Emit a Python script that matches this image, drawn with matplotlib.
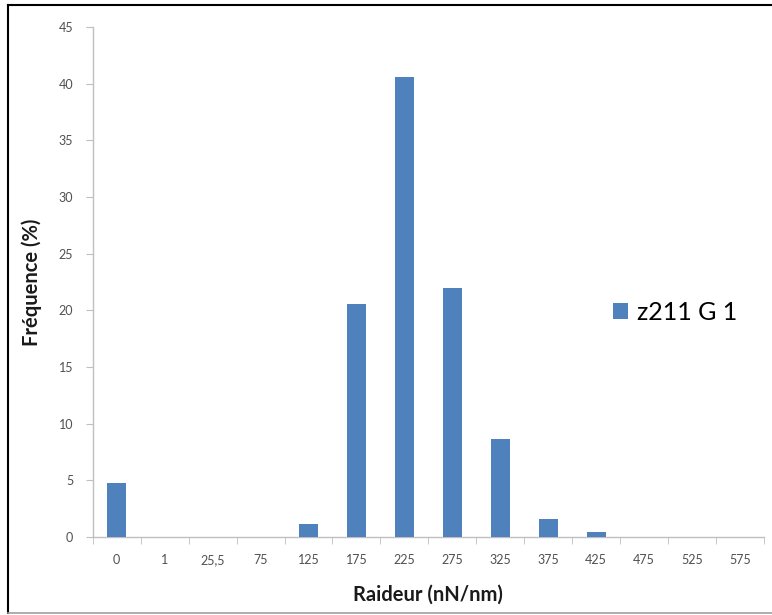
import matplotlib
matplotlib.use("Agg")
import matplotlib.pyplot as plt
from matplotlib.lines import Line2D

categories = ["0", "1", "25,5", "75", "125", "175", "225", "275", "325", "375", "425", "475", "525", "575"]
values = [4.75, 0, 0, 0, 1.15, 20.6, 40.6, 21.95, 8.65, 1.6, 0.4, 0, 0, 0]
series_name = "z211 G 1"
yticks = [0, 5, 10, 15, 20, 25, 30, 35, 40, 45]

plt.rcParams['font.family'] = ['Lato', 'DejaVu Sans']

W, H = 772, 615
fig = plt.figure(figsize=(W / 100, H / 100), dpi=100)
ax = fig.add_axes([92.7 / W, 1 - 537 / H, (764 - 92.7) / W, (537 - 27) / H])

x = list(range(len(categories)))
ax.bar(x, values, width=0.4, color="#4F81BD", label=series_name, zorder=3)

ax.set_xlim(-0.5, len(categories) - 0.5)
ax.set_ylim(0, 45)
ax.set_yticks(yticks)
ax.set_xticks(x)
ax.set_xticklabels(categories)
ax.set_xticks([i + 0.5 for i in range(-1, len(categories))], minor=True)

for s in ["top", "right"]:
    ax.spines[s].set_visible(False)
for s in ["left", "bottom"]:
    ax.spines[s].set_color("#BFBFBF")
    ax.spines[s].set_linewidth(1.0)

ax.tick_params(axis="x", which="major", length=0, pad=12, labelsize=9, labelcolor="#505050")
ax.tick_params(axis="x", which="minor", length=5, color="#BFBFBF", direction="out")
ax.tick_params(axis="y", length=5, color="#BFBFBF", pad=9, labelsize=9, labelcolor="#505050")

ax.set_xlabel("Raideur (nN/nm)", fontsize=14.5, fontweight="bold", labelpad=14, color="#1a1a1a")
ax.set_ylabel("Fréquence (%)", fontsize=14.5, fontweight="bold", labelpad=12, color="#1a1a1a")

ax.legend(loc="center left", bbox_to_anchor=(0.742, 0.44), frameon=False,
          fontsize=18, handlelength=0.6, handleheight=0.6, handletextpad=0.35)

# outer frame
fig.add_artist(Line2D([8 / W, 8 / W], [1 - 5 / H, 1 - 613 / H], transform=fig.transFigure,
                      color="black", linewidth=1.5))
fig.add_artist(Line2D([8 / W, 1.0], [1 - 5 / H, 1 - 5 / H], transform=fig.transFigure,
                      color="black", linewidth=1.5))
fig.add_artist(Line2D([8 / W, 1.0], [1 - 613 / H, 1 - 613 / H], transform=fig.transFigure,
                      color="#A0A0A0", linewidth=1.2))

fig.savefig("out.png", dpi=100)
